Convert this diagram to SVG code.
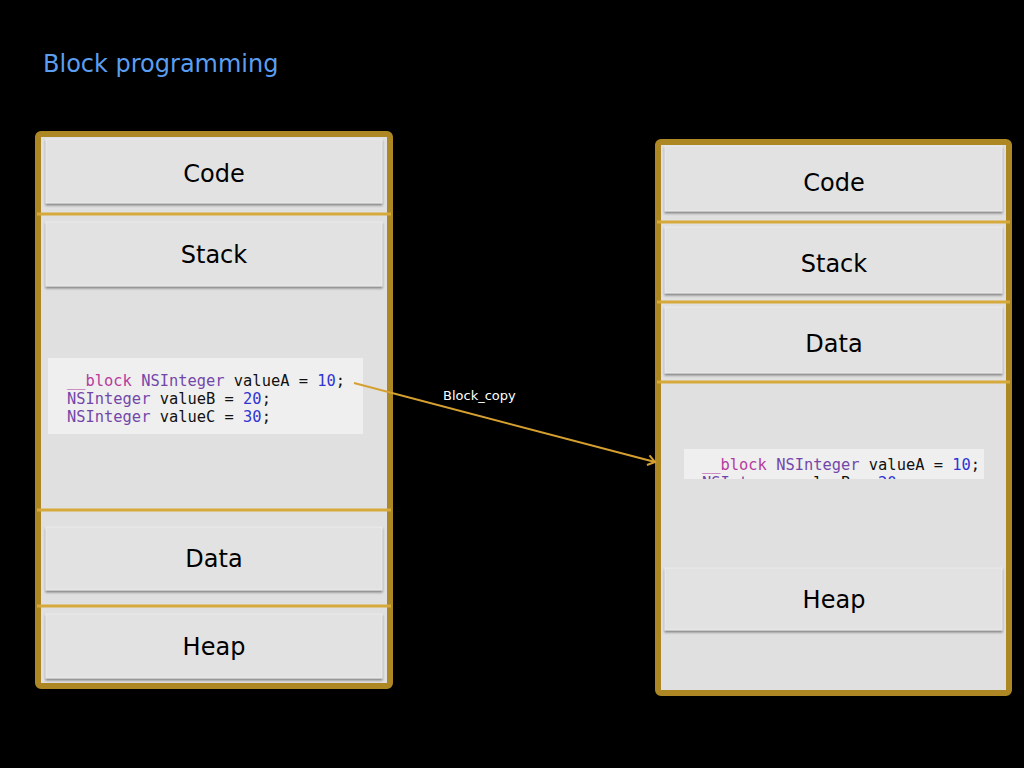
<svg xmlns="http://www.w3.org/2000/svg" width="1024" height="768" viewBox="0 0 1024 768">
<defs>
<style>
.frame{fill:#e0e0e0;stroke:#ad8724;stroke-width:6}
.div{stroke:#d6a93a;stroke-width:3}
.box{fill:#e2e2e2;stroke:#ececec;stroke-width:1;filter:url(#sh)}
.lbl{font-family:"DejaVu Sans",Verdana,sans-serif;font-size:24px;fill:#000;text-anchor:middle}
.snip{fill:#efefef}
.code{font-family:"DejaVu Sans Mono","Liberation Mono",monospace;font-size:15.4px;fill:#111}
.kw{fill:#b63b9e}
.ty{fill:#7347aa}
.nm{fill:#2f34d2}
.conn{stroke:#d6a030;stroke-width:2;fill:none}
</style>
<filter id="sh" x="-5%" y="-10%" width="110%" height="130%">
<feDropShadow dx="0" dy="2" stdDeviation="1" flood-color="#6e6e6e" flood-opacity="0.8"/>
</filter>
<marker id="arr" markerWidth="12" markerHeight="12" refX="9" refY="6" orient="auto" markerUnits="userSpaceOnUse">
<path d="M2,1 L9,6 L2,11" fill="none" stroke="#d6a030" stroke-width="2"/>
</marker>
<clipPath id="clipR"><rect x="684" y="449" width="300" height="30"/></clipPath>
</defs>
<rect width="1024" height="768" fill="#000"/>
<text x="43" y="72" font-family="DejaVu Sans,Verdana,sans-serif" font-size="24" fill="#5b9ef0">Block programming</text>

<g id="left-memory">
<rect class="frame" x="38" y="134" width="352" height="552" rx="3"/>
<line class="div" x1="37" y1="214" x2="391" y2="214"/>
<line class="div" x1="37" y1="510" x2="391" y2="510"/>
<line class="div" x1="37" y1="606" x2="391" y2="606"/>
</g>
<g id="left-code"><rect class="box" x="46" y="139" width="336" height="64"/><text class="lbl" x="214" y="182">Code</text></g>
<g id="left-stack"><rect class="box" x="46" y="222" width="336" height="64"/><text class="lbl" x="214" y="263">Stack</text></g>
<g id="left-snippet">
<rect class="snip" x="48" y="358" width="315" height="76"/>
<text class="code" x="67" y="386"><tspan class="kw">__block</tspan> <tspan class="ty">NSInteger</tspan> valueA = <tspan class="nm">10</tspan>;</text>
<text class="code" x="67" y="404"><tspan class="ty">NSInteger</tspan> valueB = <tspan class="nm">20</tspan>;</text>
<text class="code" x="67" y="422"><tspan class="ty">NSInteger</tspan> valueC = <tspan class="nm">30</tspan>;</text>
</g>
<g id="left-data"><rect class="box" x="46" y="527" width="336" height="63"/><text class="lbl" x="214" y="567">Data</text></g>
<g id="left-heap"><rect class="box" x="46" y="614" width="336" height="64"/><text class="lbl" x="214" y="655">Heap</text></g>

<g id="right-memory">
<rect class="frame" x="658" y="142" width="351" height="551" rx="3"/>
<line class="div" x1="657" y1="222" x2="1010" y2="222"/>
<line class="div" x1="657" y1="302" x2="1010" y2="302"/>
<line class="div" x1="657" y1="382" x2="1010" y2="382"/>
</g>
<g id="right-code"><rect class="box" x="665" y="146" width="337" height="65"/><text class="lbl" x="834" y="191">Code</text></g>
<g id="right-stack"><rect class="box" x="665" y="227" width="337" height="66"/><text class="lbl" x="834" y="272">Stack</text></g>
<g id="right-data"><rect class="box" x="665" y="307" width="337" height="66"/><text class="lbl" x="834" y="352">Data</text></g>
<g id="right-snippet" clip-path="url(#clipR)">
<rect class="snip" x="684" y="449" width="300" height="30"/>
<text class="code" x="702" y="470"><tspan class="kw">__block</tspan> <tspan class="ty">NSInteger</tspan> valueA = <tspan class="nm">10</tspan>;</text>
<text class="code" x="702" y="488"><tspan class="ty">NSInteger</tspan> valueB = <tspan class="nm">20</tspan>;</text>
</g>
<g id="right-heap"><rect class="box" x="665" y="568" width="337" height="62"/><text class="lbl" x="834" y="608">Heap</text></g>

<g id="connectors">
<line class="conn" x1="354" y1="383" x2="655" y2="462" marker-end="url(#arr)"/>
<text x="443" y="400" font-family="DejaVu Sans,Verdana,sans-serif" font-size="13" fill="#fff">Block_copy</text>
</g>
</svg>
